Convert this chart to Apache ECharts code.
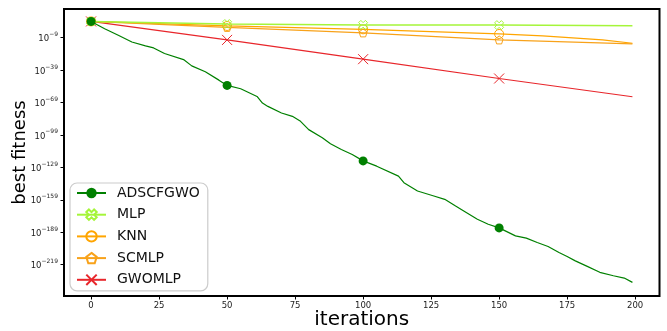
<!DOCTYPE html>
<html>
<head>
<meta charset="utf-8">
<script src="https://cdn.jsdelivr.net/npm/echarts@6/dist/echarts.min.js"></script>
<style>html,body{margin:0;padding:0;background:#fff}#c{width:667px;height:331px}</style>
</head>
<body>
<div id="c"></div>
<script>
// best fitness values stored as log10(best fitness)
const adscfgwoIter = [0,5,10,15,20,23,27,34,37,42,47,50,55,61,63,65,70,74,77,80,85,88,92,96,100,105,113,115,120,126,130,134,137,142,146,150,156,160,164,168,172,175,178,182,187,192,196,199];
const adscfgwoLog = [6,-0.7,-6.8,-13,-16.6,-18.5,-23.7,-29.3,-35.1,-40.6,-48.3,-53.2,-56.3,-63.4,-69.5,-72.6,-78.7,-81.8,-86.4,-94.1,-101.7,-107.2,-112.5,-117.1,-123,-127.9,-137.1,-143.2,-150.9,-155.5,-158.6,-164.8,-169.4,-177,-181.6,-185,-192.4,-194.5,-198.5,-202.2,-207.7,-211.4,-215.5,-220.1,-226.1,-229.3,-231.4,-235.4];
const mlpIter = [0,50,100,150,199];
const mlpLog = [6,3.6,2.8,2.6,2.1];
const knnIter = [0,50,100,150,166,188,199];
const knnLog = [6,1.8,-1.3,-5.6,-7.4,-11.1,-14.2];
const scmlpIter = [0,50,100,150,199];
const scmlpLog = [6,0.5,-4.6,-11.1,-14.8];
const gwomlpIter = [0,50,100,150,199];
const gwomlpLog = [6,-11.1,-28.9,-46.8,-63.7];
const markerIters = [0,50,100,150];
const xTicks = [0,25,50,75,100,125,150,175,200];
const yTickExps = [-219,-189,-159,-129,-99,-69,-39,-9];
const seriesNames = ['ADSCFGWO','MLP','KNN','SCMLP','GWOMLP'];

function build(iters, vals) {
  return iters.map((it, i) => {
    const d = { value: [it, vals[i]] };
    if (markerIters.indexOf(it) < 0) d.symbol = 'none';
    return d;
  });
}

const X_PATH = 'path://M2.5 0 L5 2.5 L7.5 0 L10 2.5 L7.5 5 L10 7.5 L7.5 10 L5 7.5 L2.5 10 L0 7.5 L2.5 5 L0 2.5 Z';
const PENT_PATH = 'path://M5 0 L10 3.8 L8.1 10 L1.9 10 L0 3.8 Z';
const CROSS_PATH = 'path://M0 0 L10 10 M10 0 L0 10';

const chart = echarts.init(document.getElementById('c'), null, {renderer: 'canvas'});
const lblStyle = {fontFamily: 'DejaVu Sans', color: '#222'};
chart.setOption({
  animation: false,
  backgroundColor: '#fff',
  grid: {left: 64, right: 7.5, top: 9, bottom: 35, show: true, borderColor: '#000', borderWidth: 2,
         backgroundColor: 'transparent', containLabel: false, outerBoundsMode: 'none'},
  xAxis: {
    type: 'value', min: -9.95, max: 208.95,
    name: 'iterations', nameLocation: 'middle', nameGap: 14, nameMoveOverlap: false,
    nameTextStyle: {fontFamily: 'DejaVu Sans', fontSize: 20, color: '#000'},
    axisLine: {show: false, onZero: false},
    axisTick: {show: true, length: 3.5, lineStyle: {color: '#000', width: 1}, customValues: xTicks},
    axisLabel: Object.assign({fontSize: 8.5, margin: 5, customValues: xTicks}, lblStyle),
    splitLine: {show: false}
  },
  yAxis: {
    type: 'value', min: -248, max: 17.5,
    name: 'best fitness', nameLocation: 'middle', nameGap: 35, nameMoveOverlap: false,
    nameTextStyle: {fontFamily: 'DejaVu Sans', fontSize: 18, color: '#000'},
    axisLine: {show: false, onZero: false},
    axisTick: {show: true, length: 3.5, lineStyle: {color: '#000', width: 1}, customValues: yTickExps},
    axisLabel: {
      customValues: yTickExps, margin: 6,
      formatter: v => '{b|10}{s|' + String(v).replace('-', '\u2212') + '}',
      rich: {
        b: {fontFamily: 'DejaVu Sans', fontSize: 8.5, color: '#222', verticalAlign: 'bottom', lineHeight: 12},
        s: {fontFamily: 'DejaVu Sans', fontSize: 6, color: '#222', verticalAlign: 'top', lineHeight: 12, padding: [0,0,6,0]}
      }
    },
    splitLine: {show: false}
  },
  legend: {
    orient: 'vertical', left: 70, top: 183,
    data: seriesNames,
    itemWidth: 29, itemHeight: 13, itemGap: 7.7,
    padding: [3, 8, 4, 6],
    borderColor: '#ccc', borderWidth: 1.2, borderRadius: 7,
    backgroundColor: 'rgba(255,255,255,0.85)',
    textStyle: {fontFamily: 'DejaVu Sans', fontSize: 14, color: '#111', padding: [0,0,0,6]}
  },
  series: [
    {name: 'ADSCFGWO', type: 'line', data: build(adscfgwoIter, adscfgwoLog), showAllSymbol: true,
     symbol: 'circle', symbolSize: 9, z: 5,
     lineStyle: {color: '#008000', width: 1.2}, itemStyle: {color: '#008000', borderWidth: 0}},
    {name: 'MLP', type: 'line', data: build(mlpIter, mlpLog), showAllSymbol: true,
     symbol: X_PATH, symbolSize: 9, z: 4,
     lineStyle: {color: '#a5f53a', width: 1.5}, itemStyle: {color: 'rgba(255,255,255,0)', borderColor: '#a5f53a', borderWidth: 1}},
    {name: 'KNN', type: 'line', data: build(knnIter, knnLog), showAllSymbol: true,
     symbol: 'circle', symbolSize: 9, z: 3,
     lineStyle: {color: '#ffa500', width: 1.2}, itemStyle: {color: 'rgba(255,255,255,0)', borderColor: '#ffa500', borderWidth: 1}},
    {name: 'SCMLP', type: 'line', data: build(scmlpIter, scmlpLog), showAllSymbol: true,
     symbol: PENT_PATH, symbolSize: 8, z: 3,
     lineStyle: {color: '#f8a21a', width: 1.2}, itemStyle: {color: 'rgba(255,255,255,0)', borderColor: '#f8a21a', borderWidth: 1}},
    {name: 'GWOMLP', type: 'line', data: build(gwomlpIter, gwomlpLog), showAllSymbol: true,
     symbol: CROSS_PATH, symbolSize: 10, z: 2,
     lineStyle: {color: '#e8262b', width: 1.2}, itemStyle: {color: '#e8262b', borderColor: '#e8262b', borderWidth: 1}}
  ]
});
</script>
</body>
</html>
